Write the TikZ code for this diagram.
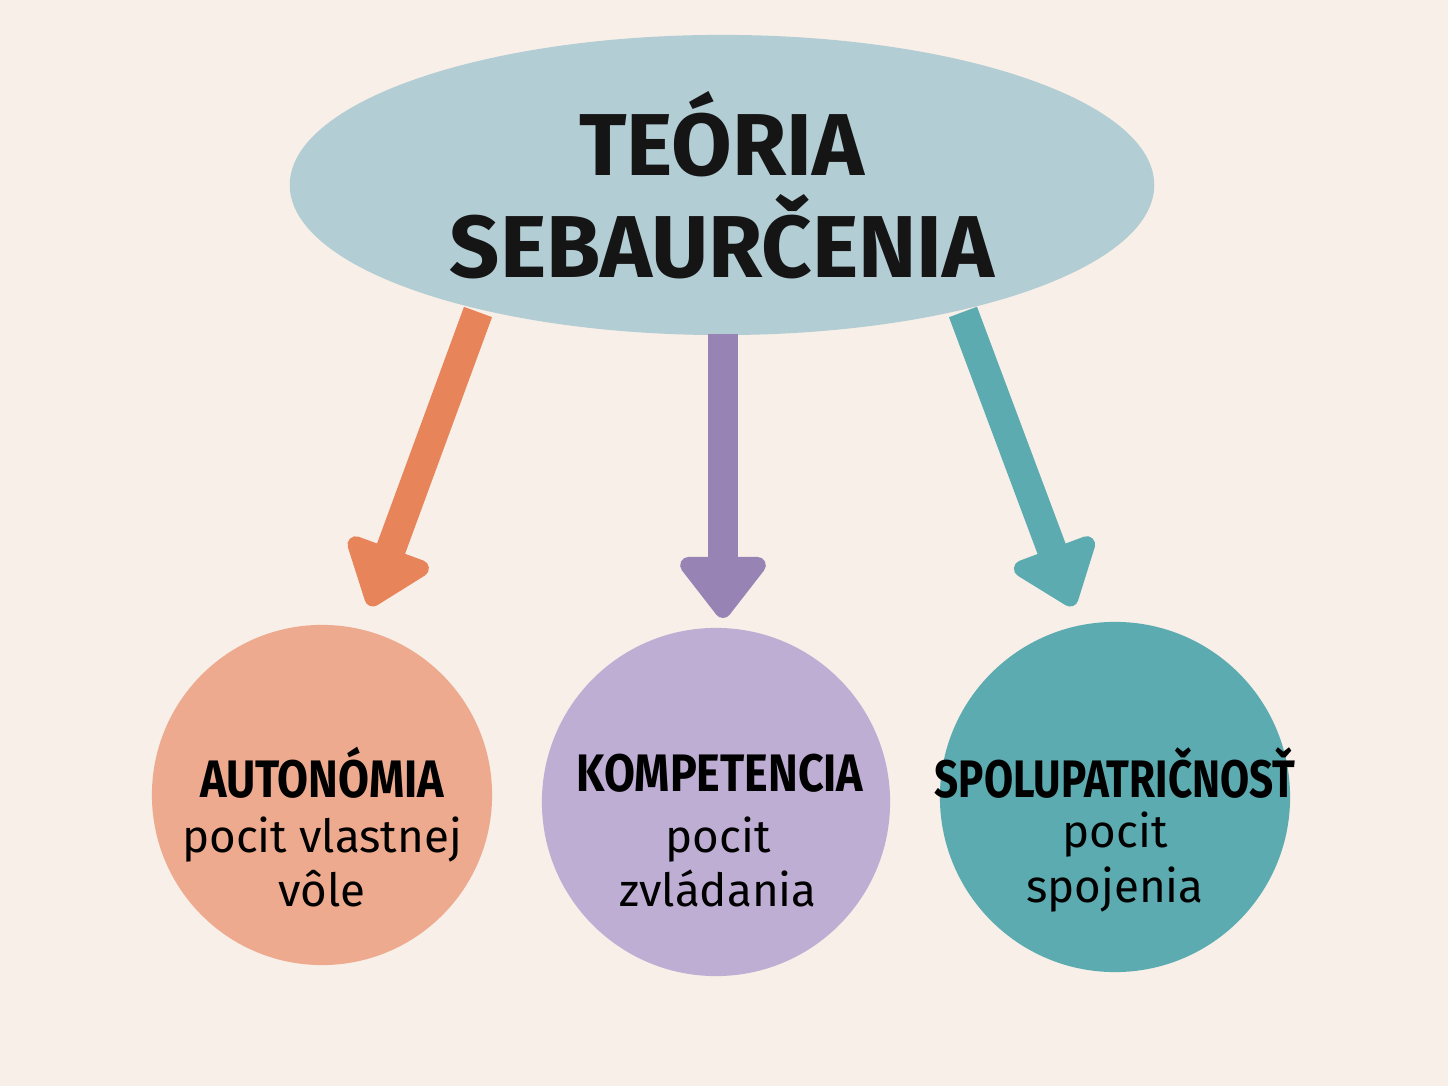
\documentclass[tikz,border=0pt]{standalone}
\usepackage{fontspec}
\setmainfont{Fira Sans}
\usetikzlibrary{arrows.meta,shapes.geometric}
\definecolor{bg}{HTML}{F7EFE8}
\definecolor{ellc}{HTML}{B2CDD3}
\definecolor{orA}{HTML}{E8845A}
\definecolor{orC}{HTML}{EEAA8E}
\definecolor{puA}{HTML}{9784B5}
\definecolor{puC}{HTML}{BFAED4}
\definecolor{teA}{HTML}{5BABB0}
\definecolor{txt}{HTML}{151515}
\begin{document}
\begin{tikzpicture}[x=0.01cm,y=-0.01cm,
  circ/.style={circle,inner sep=0pt,align=center,text=txt},
  arr/.style={line width=8.5pt,-{Triangle[length=19pt,width=28pt,round]},line join=round},
  head/.style={font=\fontsize{15}{18}\selectfont\bfseries},
  sub/.style={font=\fontsize{13}{15.5}\selectfont}]
\fill[bg] (0,0) rectangle (1448,1086);
\node[ellipse,fill=ellc,minimum width=864\pgflinewidth*0+8.64cm,minimum height=3.0cm,inner sep=0pt,align=center,text=txt,font=\fontsize{25}{27}\selectfont\bfseries] (ell) at (722,185) {TEÓRIA\\[2pt]SEBAURČENIA};
\node[circ,fill=orC,minimum size=3.4cm] (a) at (322,795) {};
\node[circ,fill=puC,minimum size=3.48cm] (k) at (716,802) {};
\node[circ,fill=teA,minimum size=3.5cm] (s) at (1115,797) {};
\node[head] (ah) at (322,773) {\scalebox{0.85}[1]{AUTONÓMIA}};
\node[sub,align=center] (at) at (322,862) {pocit vlastnej\\vôle};
\node[head] (kh) at (720,773) {\scalebox{0.85}[1]{KOMPETENCIA}};
\node[sub,align=center] (kt) at (718,862) {pocit\\zvládania};
\node[head] (sh) at (1115,773) {\scalebox{0.8}[1]{SPOLUPATRIČNOSŤ}};
\node[sub,align=center] (st) at (1115,862) {pocit\\spojenia};
\coordinate (o1) at (478,312); \coordinate (o2) at (370,606);
\coordinate (p1) at (723,334); \coordinate (p2) at (723,618);
\coordinate (t1) at (963,312); \coordinate (t2) at (1073,606);
\draw[arr,orA] (o1) -- (o2);
\draw[arr,puA] (p1) -- (p2);
\draw[arr,teA] (t1) -- (t2);
\end{tikzpicture}
\end{document}
